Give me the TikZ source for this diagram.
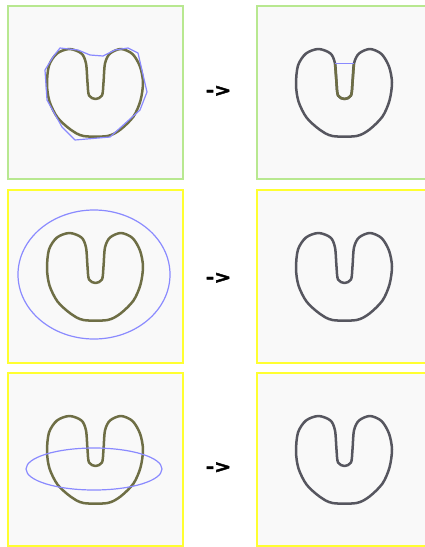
\documentclass[tikz,border=0pt]{standalone}
\usepackage{fontspec}
\newfontfamily\arrowfont{DejaVu Sans Bold}[FakeBold=2.5]
\usepackage{tikz}
\definecolor{panelbg}{HTML}{F9F9F9}
\definecolor{okgreen}{HTML}{B8E890}
\definecolor{warnyellow}{HTML}{FFFF30}
\definecolor{beanolive}{HTML}{6E6E45}
\definecolor{beanslate}{HTML}{56565F}
\definecolor{hullblue}{HTML}{8A8AFF}

% outline of the bean, relative to the panel centre
\newcommand{\beanpath}{plot[smooth cycle, tension=0.5] coordinates {(-26,-43.5) (-14,-39) (-9.5,-29) (-8,-10) (-6.5,3) (0,6.5) (6.5,3) (8,-10) (9.5,-29) (14.5,-39) (25.5,-43.5) (37,-38.5) (44.5,-26) (47.5,-10) (45,8) (38,24) (25,37) (12,43.5) (-12,43.5) (-25,37) (-38,25) (-46,9) (-48.5,-8) (-46.5,-27) (-38.5,-39)}}
\newcommand{\notchpath}{plot[smooth, tension=0.5] coordinates {(-9.5,-29) (-8,-10) (-6.5,3) (0,6.5) (6.5,3) (8,-10) (9.5,-29)}}

\begin{document}
\begin{tikzpicture}[
    x=1pt, y=-1pt,
    panel/.style={rectangle, fill=panelbg, line width=2pt, minimum width=175pt, minimum height=173pt, inner sep=0pt},
    okpanel/.style={panel, draw=okgreen},
    warnpanel/.style={panel, draw=warnyellow},
    bean/.style={draw=beanolive, line width=2.5pt, line join=round},
    done/.style={draw=beanslate, line width=2.5pt, line join=round},
    hull/.style={draw=hullblue, line width=1.2pt, line join=round},
    step arrow/.style={font=\arrowfont\fontsize{17}{17}\selectfont, inner sep=0pt}
]
\useasboundingbox[fill=white] (0,0) rectangle (424,547);

\node[okpanel] (p1) at (95.5,92.5) {};
\node[okpanel] (p2) at (344.5,92.5) {};
\node[warnpanel] (p3) at (95.5,276.5) {};
\node[warnpanel] (p4) at (344.5,276.5) {};
\node[warnpanel] (p5) at (95.5,459.5) {};
\node[warnpanel] (p6) at (344.5,459.5) {};

\node[step arrow] (a1) at (218.5,91) {\scalebox{1.2}[1]{->}};
\node[step arrow] (a2) at (218.5,278) {\scalebox{1.2}[1]{->}};
\node[step arrow] (a3) at (218.5,467.5) {\scalebox{1.2}[1]{->}};

% row 1: polygon hull
\begin{scope}[shift={(p1.center)}]
  \draw[bean] \beanpath;
  \draw[hull] (-35.5,-44.5) -- (-17.5,-42.5) -- (-5.5,-37.5) -- (7.5,-36.5) -- (19.5,-42.5) -- (32.5,-44.5) -- (42.5,-39.5) -- (51.5,-0.5) -- (44.5,17.5) -- (14.5,44.5) -- (-20.5,47.5) -- (-33.5,34.5) -- (-48.5,7.5) -- (-50.5,-22.5) -- (-42.5,-35.5) -- cycle;
\end{scope}
\begin{scope}[shift={(p2.center)}]
  \draw[done] \beanpath;
  \draw[bean] \notchpath;
  \draw[hull] (-9.5,-29) -- (9.5,-29);
\end{scope}

% row 2: big ellipse
\begin{scope}[shift={(p3.center)}]
  \draw[bean] \beanpath;
  \draw[hull] (-1.5,-2) ellipse [x radius=76, y radius=64.5];
\end{scope}
\begin{scope}[shift={(p4.center)}]
  \draw[done] \beanpath;
\end{scope}

% row 3: flat ellipse
\begin{scope}[shift={(p5.center)}]
  \draw[bean] \beanpath;
  \draw[hull] (-1.5,9.5) ellipse [x radius=68, y radius=21];
\end{scope}
\begin{scope}[shift={(p6.center)}]
  \draw[done] \beanpath;
\end{scope}
\end{tikzpicture}
\end{document}
